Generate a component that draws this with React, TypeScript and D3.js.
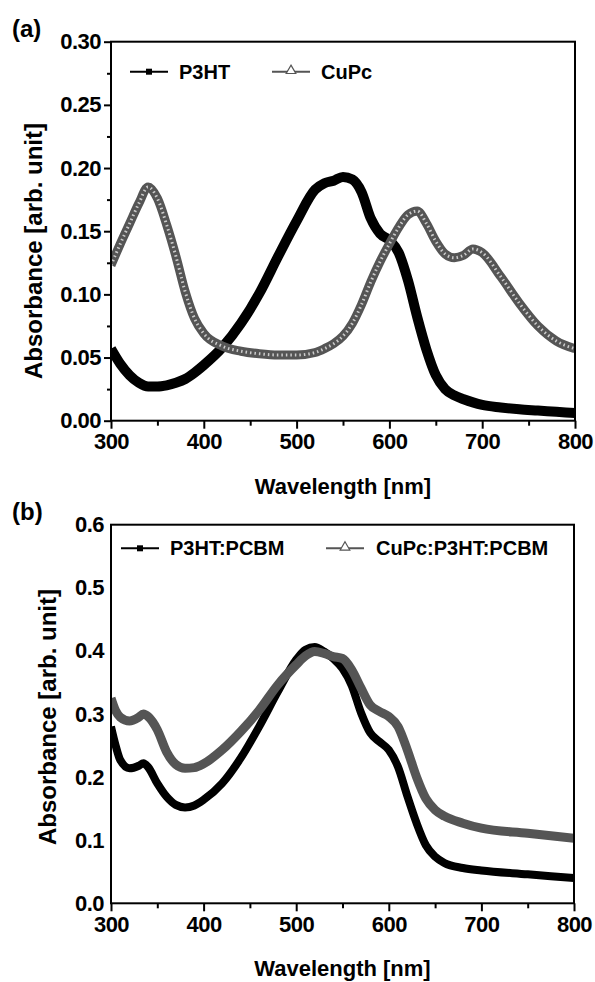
import React, { useRef, useEffect } from 'react';
import * as d3 from 'd3';

// wavelengths (nm) shared by both series of panel (a)
const wlTop = [300, 310, 320, 330, 340, 350, 360, 370, 380, 390, 400, 420, 440, 460, 480, 500, 520, 530, 540, 550,
  560, 570, 580, 590, 600, 610, 620, 630, 640, 650, 660, 670, 680, 690, 700, 720, 740, 760, 780, 800];
const p3ht = [0.057, 0.045, 0.036, 0.030, 0.027, 0.027, 0.028, 0.030, 0.033, 0.038, 0.044, 0.058, 0.077, 0.101, 0.130,
  0.158, 0.183, 0.188, 0.190, 0.193, 0.191, 0.181, 0.160, 0.148, 0.143, 0.133, 0.111, 0.082, 0.056, 0.036, 0.025,
  0.020, 0.017, 0.0145, 0.0125, 0.0105, 0.009, 0.008, 0.007, 0.006];
const cupc = [0.123, 0.140, 0.156, 0.172, 0.185, 0.176, 0.155, 0.130, 0.102, 0.081, 0.069, 0.059, 0.055, 0.053, 0.052,
  0.052, 0.054, 0.057, 0.061, 0.067, 0.077, 0.092, 0.110, 0.126, 0.140, 0.153, 0.163, 0.166, 0.156, 0.142, 0.132,
  0.129, 0.131, 0.136, 0.133, 0.114, 0.093, 0.075, 0.063, 0.057];

// panel (b)
const wlBottom = [300, 305, 310, 320, 330, 335, 340, 350, 360, 370, 380, 390, 400, 420, 440, 460, 480, 500, 510, 520,
  530, 540, 550, 560, 570, 580, 590, 600, 610, 620, 630, 640, 650, 660, 680, 700, 750, 800];
const p3htPcbm = [0.280, 0.250, 0.227, 0.214, 0.218, 0.222, 0.216, 0.190, 0.169, 0.156, 0.152, 0.155, 0.164, 0.190,
  0.230, 0.280, 0.335, 0.386, 0.402, 0.406, 0.399, 0.388, 0.372, 0.345, 0.302, 0.270, 0.256, 0.243, 0.216, 0.170,
  0.127, 0.092, 0.074, 0.064, 0.056, 0.052, 0.046, 0.040];
const cupcP3htPcbm = [0.325, 0.305, 0.295, 0.289, 0.295, 0.300, 0.296, 0.275, 0.240, 0.220, 0.214, 0.215, 0.221, 0.243,
  0.272, 0.306, 0.346, 0.378, 0.392, 0.399, 0.396, 0.391, 0.388, 0.370, 0.341, 0.314, 0.304, 0.296, 0.280, 0.243,
  0.200, 0.166, 0.148, 0.138, 0.127, 0.119, 0.111, 0.103];

const xTicks = [300, 400, 500, 600, 700, 800];
const yTicksTop = [0, 0.05, 0.1, 0.15, 0.2, 0.25, 0.3];
const yTicksBottom = [0, 0.1, 0.2, 0.3, 0.4, 0.5, 0.6];

const FONT = '"Liberation Sans", Arial, sans-serif';
const GRAY = '#555555';

const App = () => {
  const svgRef = useRef<SVGSVGElement>(null);

  useEffect(() => {
    const svg = d3.select(svgRef.current);
    svg.selectAll('*').remove();

    const panels = [
      {
        id: 'a', label: '(a)', labelY: 37,
        x0: 111, x1: 575, yTop: 41.7, yBot: 420.7,
        yMax: 0.3, yTicks: yTicksTop, yFmt: d3.format('.2f'), yMinor: true,
        titleX: 42, titleY: 251,
        wl: wlTop,
        series: [
          { name: 'P3HT', values: p3ht, color: '#000', width: 10, texture: false, marker: 'square' },
          { name: 'CuPc', values: cupc, color: GRAY, width: 9, texture: true, marker: 'triangle' },
        ],
        legend: [{ lx: 130, tx: 179 }, { lx: 272, tx: 321 }], legendY: 71.7,
      },
      {
        id: 'b', label: '(b)', labelY: 520,
        x0: 111, x1: 574, yTop: 524.7, yBot: 903.3,
        yMax: 0.6, yTicks: yTicksBottom, yFmt: d3.format('.1f'), yMinor: false,
        titleX: 56, titleY: 717,
        wl: wlBottom,
        series: [
          { name: 'P3HT:PCBM', values: p3htPcbm, color: '#000', width: 8, texture: false, marker: 'square' },
          { name: 'CuPc:P3HT:PCBM', values: cupcP3htPcbm, color: GRAY, width: 9, texture: false, marker: 'triangle' },
        ],
        legend: [{ lx: 121, tx: 170 }, { lx: 326, tx: 376 }], legendY: 548.3,
      },
    ];

    panels.forEach(p => {
      const x = d3.scaleLinear().domain([300, 800]).range([p.x0, p.x1]);
      const y = d3.scaleLinear().domain([0, p.yMax]).range([p.yBot, p.yTop]);
      const g = svg.append('g');

      // clip so thick curves stop at the frame
      svg.append('defs').append('clipPath').attr('id', 'clip-' + p.id)
        .append('rect')
        .attr('x', p.x0).attr('y', p.yTop)
        .attr('width', p.x1 - p.x0).attr('height', p.yBot - p.yTop);

      const line = d3.line<number>()
        .x((d, i) => x(p.wl[i]))
        .y(d => y(d))
        .curve(d3.curveMonotoneX);

      const plot = g.append('g').attr('clip-path', `url(#clip-${p.id})`);
      p.series.forEach(s => {
        plot.append('path')
          .attr('d', line(s.values))
          .attr('fill', 'none')
          .attr('stroke', s.color)
          .attr('stroke-width', s.width)
          .attr('stroke-linejoin', 'round');
        if (s.texture) {
          // white speckles from the stacked open-triangle markers
          plot.append('path')
            .attr('d', line(s.values))
            .attr('fill', 'none')
            .attr('stroke', '#fff')
            .attr('stroke-width', 3)
            .attr('stroke-dasharray', '1.5 3')
            .attr('opacity', 0.7);
        }
      });

      // x axis, major + minor ticks pointing outward
      const xAxis = g.append('g').attr('transform', `translate(0,${p.yBot})`)
        .call(d3.axisBottom(x).tickValues(xTicks).tickFormat(d3.format('d')).tickSize(8).tickPadding(5));
      g.append('g').attr('transform', `translate(0,${p.yBot})`)
        .call(d3.axisBottom(x).tickValues([350, 450, 550, 650, 750]).tickFormat(() => '').tickSize(5));

      const yAxis = g.append('g').attr('transform', `translate(${p.x0},0)`)
        .call(d3.axisLeft(y).tickValues(p.yTicks).tickFormat(p.yFmt as any)
          .tickSize(p.yMinor ? 7 : 0).tickPadding(p.yMinor ? 3 : 7));
      if (p.yMinor) {
        g.append('g').attr('transform', `translate(${p.x0},0)`)
          .call(d3.axisLeft(y).tickValues(d3.range(0.025, p.yMax, 0.05)).tickFormat(() => '').tickSize(4));
      }

      g.selectAll('.domain').remove();
      g.selectAll('.tick line').attr('stroke', '#000').attr('stroke-width', 2);
      [xAxis, yAxis].forEach(a => a.selectAll('text')
        .attr('font-family', FONT).attr('font-size', 22).attr('font-weight', 'bold')
        .attr('letter-spacing', -0.5).attr('fill', '#000'));

      // frame
      g.append('rect')
        .attr('x', p.x0).attr('y', p.yTop)
        .attr('width', p.x1 - p.x0).attr('height', p.yBot - p.yTop)
        .attr('fill', 'none').attr('stroke', '#000').attr('stroke-width', 2);

      // titles
      g.append('text')
        .attr('x', (p.x0 + p.x1) / 2).attr('y', p.yBot + 73)
        .attr('text-anchor', 'middle')
        .attr('font-family', FONT).attr('font-size', 22).attr('font-weight', 'bold')
        .text('Wavelength [nm]');
      g.append('text')
        .attr('transform', `translate(${p.titleX},${p.titleY}) rotate(-90)`)
        .attr('text-anchor', 'middle')
        .attr('font-family', FONT).attr('font-size', 24).attr('font-weight', 'bold')
        .text('Absorbance [arb. unit]');
      g.append('text')
        .attr('x', 12).attr('y', p.labelY)
        .attr('font-family', FONT).attr('font-size', 24).attr('font-weight', 'bold')
        .text(p.label);

      // legend
      p.series.forEach((s, i) => {
        const L = p.legend[i];
        const cy = p.legendY;
        g.append('line')
          .attr('x1', L.lx).attr('x2', L.lx + 38).attr('y1', cy).attr('y2', cy)
          .attr('stroke', s.color).attr('stroke-width', 2);
        if (s.marker === 'square') {
          g.append('rect').attr('x', L.lx + 16).attr('y', cy - 3).attr('width', 6).attr('height', 6).attr('fill', s.color);
        } else {
          g.append('path')
            .attr('d', d3.symbol().type(d3.symbolTriangle).size(40)())
            .attr('transform', `translate(${L.lx + 19},${cy - 1})`)
            .attr('fill', '#fff').attr('stroke', s.color).attr('stroke-width', 1.2);
        }
        g.append('text')
          .attr('x', L.tx).attr('y', cy)
          .attr('dominant-baseline', 'central')
          .attr('font-family', FONT).attr('font-size', 20).attr('font-weight', 'bold')
          .text(s.name);
      });
    });
  }, []);

  return (
    <svg ref={svgRef} width="595" height="982"
      style={{ position: 'absolute', left: 0, top: 0, background: '#fff' }} />
  );
};

export default App;
